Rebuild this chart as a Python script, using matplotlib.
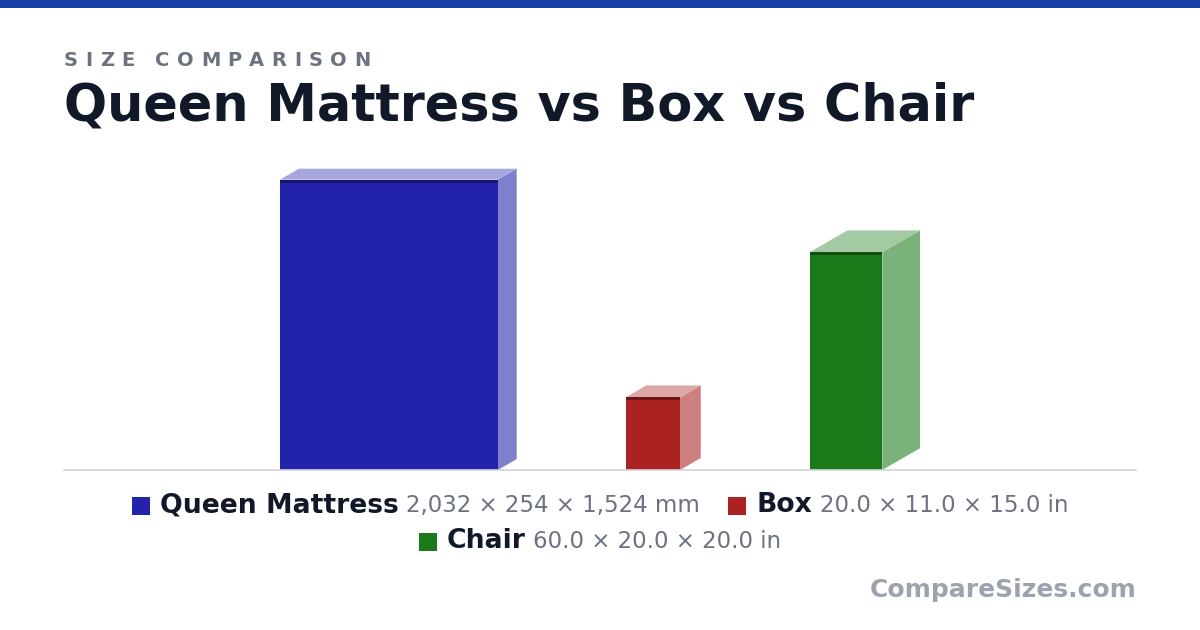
import matplotlib
matplotlib.use('Agg')
import matplotlib.pyplot as plt
from matplotlib.patches import Polygon, Rectangle
import numpy as np

# dados: comprimento (altura), profundidade, largura em polegadas
names = ['Queen Mattress', 'Box', 'Chair']
height_in = [80.0, 20.0, 60.0]
depth_in = [10.0, 11.0, 20.0]
width_in = [60.0, 15.0, 20.0]
dim_labels = ['2,032 × 254 × 1,524 mm', '20.0 × 11.0 × 15.0 in', '60.0 × 20.0 × 20.0 in']
colors = ['#2222aa', '#aa2222', '#1a7a1a']
legend_rows = [[0, 1], [2]]

W, H = 1200, 630
SCALE = 3.63          # px por polegada
GAP = 30.0            # espaco entre objetos (in)
KX, KY = 0.6 * np.cos(np.pi / 6), 0.6 * np.sin(np.pi / 6)


def mix(c, t):
    r = np.array(matplotlib.colors.to_rgb(c))
    return tuple(r * (1 - t) + t)


def shade(c, f):
    return tuple(np.array(matplotlib.colors.to_rgb(c)) * f)


fig = plt.figure(figsize=(W / 100, H / 100), dpi=100)
fig.patch.set_facecolor('white')

# camada de fundo em pixels para textos e decoracao
bg = fig.add_axes([0, 0, 1, 1])
bg.set_xlim(0, W)
bg.set_ylim(H, 0)
bg.axis('off')
bg.add_patch(Rectangle((0, 0), W, 8, color='#1640a8', lw=0))

# eixo das barras
ax_l, ax_r, ax_base, ax_top = 64, 1136, 470, 150
ax = fig.add_axes([ax_l / W, (H - ax_base) / H, (ax_r - ax_l) / W, (ax_base - ax_top) / H])
xspan = (ax_r - ax_l) / SCALE
ax.set_xlim(-xspan / 2, xspan / 2)
ax.set_ylim(0, (ax_base - ax_top) / SCALE)
ax.axis('off')

total = sum(w + d * KX for w, d in zip(width_in, depth_in)) + GAP * (len(names) - 1)
x = -total / 2
for h, d, w, c in zip(height_in, depth_in, width_in, colors):
    dx, dy = d * KX, d * KY
    ax.add_patch(Polygon([(x + w, 0), (x + w + dx, dy), (x + w + dx, h + dy), (x + w, h)],
                         closed=True, fc=mix(c, 0.42), ec='none', zorder=2))
    ax.add_patch(Polygon([(x, h), (x + w, h), (x + w + dx, h + dy), (x + dx, h + dy)],
                         closed=True, fc=mix(c, 0.6), ec='none', zorder=2))
    ax.add_patch(Rectangle((x, 0), w, h, fc=c, ec='none', zorder=3))
    ax.add_patch(Rectangle((x, h - 0.8), w, 0.8, fc=shade(c, 0.65), ec='none', zorder=4))
    x += w + dx + GAP

ax.plot([-xspan / 2, xspan / 2], [0, 0], color='#d1d5db', lw=1.2, zorder=5, clip_on=False)

fig.canvas.draw()
renderer = fig.canvas.get_renderer()


def text_width(t):
    return t.get_window_extent(renderer).width


# subtitulo com espacamento entre letras
xc = 64
for ch in 'SIZE COMPARISON':
    t = bg.text(xc, 66, ch, fontsize=14, fontweight='bold', color='#6b7280', va='baseline')
    xc += text_width(t) + 7.4 if ch != ' ' else 13

bg.text(64, 121, 'Queen Mattress vs Box vs Chair', fontsize=36.6, fontweight='bold',
        color='#111827', va='baseline')

# legenda centralizada
row_y = [512, 548]
for row, yb in zip(legend_rows, row_y):
    parts = []
    for i in row:
        tn = bg.text(0, yb, names[i], fontsize=19.2, fontweight='bold', color='#111827', va='baseline')
        td = bg.text(0, yb, dim_labels[i], fontsize=16.5, color='#6b7280', va='baseline')
        parts.append((i, tn, td))
    widths = [18 + 10 + text_width(tn) + 8 + text_width(td) for _, tn, td in parts]
    row_w = sum(widths) + 28 * (len(parts) - 1)
    xc = W / 2 - row_w / 2
    for (i, tn, td), wd in zip(parts, widths):
        bg.add_patch(Rectangle((xc, yb - 15), 18, 18, fc=colors[i], ec='none'))
        tn.set_x(xc + 28)
        td.set_x(xc + 28 + text_width(tn) + 8)
        xc += wd + 28

bg.text(1137, 597, 'CompareSizes.com', fontsize=18, fontweight='bold', color='#9ca3af',
        ha='right', va='baseline')

fig.savefig('out.png', dpi=100, facecolor='white')
